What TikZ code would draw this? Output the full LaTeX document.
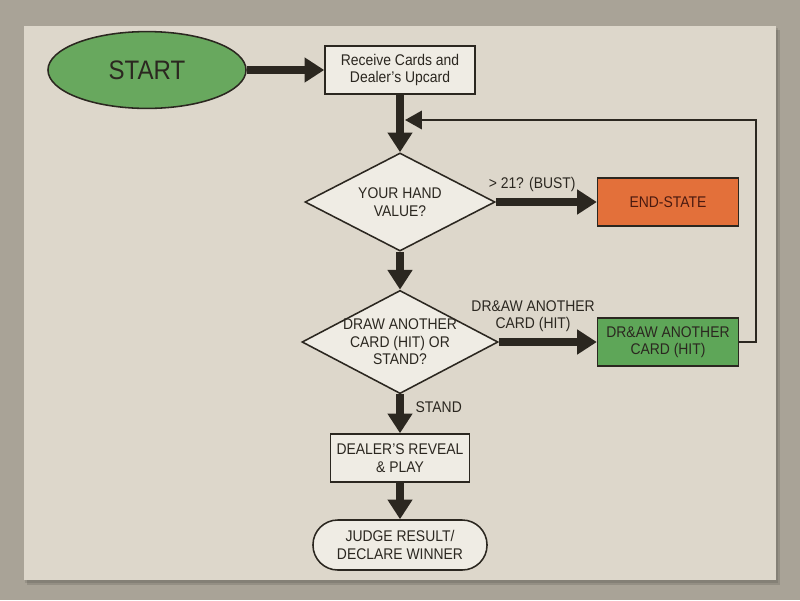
\documentclass[tikz,border=0pt]{standalone}
\usepackage{fontspec}
\setmainfont{Liberation Sans}[FakeStretch=0.9]
\usetikzlibrary{arrows.meta,positioning,shapes.geometric}
\definecolor{outerbg}{HTML}{A9A397}
\definecolor{paper}{HTML}{DDD7CB}
\definecolor{ink}{HTML}{2B2720}
\definecolor{boxfill}{HTML}{EFECE4}
\definecolor{startgreen}{HTML}{68A85E}
\definecolor{hitgreen}{HTML}{5EA658}
\definecolor{bustorange}{HTML}{E3703A}
\definecolor{busttext}{HTML}{4A1A10}

\begin{document}
\begin{tikzpicture}[
    x=0.025cm, y=-0.025cm,
    procbox/.style={
    rectangle,
    draw=ink,
    fill=boxfill,
    line width=1.1pt,
    minimum width=3.75cm,
    minimum height=1.2cm,
    align=center,
    text=ink,
    font=\fontsize{11}{12.5}\selectfont},
    decision/.style={
    diamond,
    aspect=1.9,
    draw=ink,
    fill=boxfill,
    line width=1.1pt,
    inner xsep=-12pt,
    inner ysep=-8pt,
    align=center,
    text=ink,
    font=\fontsize{11}{12.5}\selectfont},
    bigarrow/.style={-{Triangle[length=14pt,width=17pt]},line width=5.6pt,draw=ink},
    looparrow/.style={-{Triangle[length=12pt,width=13pt]},line width=1.8pt,draw=ink},
    edgelabel/.style={text=ink,align=center,font=\fontsize{11}{12.5}\selectfont}
    ]
    % background and panel
    \useasboundingbox (0,0) rectangle (800,600);
    \fill[outerbg] (0,0) rectangle (800,600);
    \fill[black,opacity=0.12] (27,30) rectangle (780,585);
    \fill[black,opacity=0.10] (25,28) rectangle (778,583);
    \fill[paper] (24,26) rectangle (776,580);

    % nodes
    \node[ellipse, draw=ink, fill=startgreen, line width=1.1pt,
          minimum width=4.95cm, minimum height=1.92cm,
          text=ink, font=\fontsize{19}{21}\selectfont] (start) at (147,70) {START};
    \node[procbox] (receive) at (400,70) {Receive Cards and\\Dealer’s Upcard};
    \node[decision, minimum width=4.75cm, minimum height=2.45cm] (hand) at (400,202) {YOUR HAND\\VALUE?};
    \node[procbox, fill=bustorange, text=busttext, minimum width=3.52cm] (bust) at (668,202) {END-STATE};
    \node[decision, minimum width=4.9cm, minimum height=2.58cm] (hitq) at (400,342) {DRAW ANOTHER\\CARD (HIT) OR\\STAND?};
    \node[procbox, fill=hitgreen, minimum width=3.52cm] (hit) at (668,342) {DR\&AW ANOTHER\\CARD (HIT)};
    \node[procbox, minimum width=3.47cm] (dealer) at (400,458) {DEALER’S REVEAL\\\& PLAY};
    \node[procbox, rounded corners=0.62cm, minimum width=4.35cm, minimum height=1.25cm] (judge) at (400,545) {JUDGE RESULT/\\DECLARE WINNER};

    \coordinate (loopcorner) at (756,120);
    \coordinate (merge) at (405,120);

    % connectors
    \draw[bigarrow] (start.east) -- (receive.west);
    \draw[bigarrow] (receive.south) -- (hand.north);
    \draw[bigarrow] (hand.east) -- (bust.west) node[edgelabel, above=1pt, pos=0.36] {> 21? (BUST)};
    \draw[bigarrow] (hand.south) -- (hitq.north);
    \draw[bigarrow] (hitq.east) -- (hit.west) node[edgelabel, above=1pt, pos=0.35] {DR\&AW ANOTHER\\CARD (HIT)};
    \draw[bigarrow] (hitq.south) -- (dealer.north) node[edgelabel, right=5pt, pos=0.33] {STAND};
    \draw[bigarrow] (dealer.south) -- (judge.north);
    \draw[looparrow] (hit.east) -| (loopcorner) -- (merge);
\end{tikzpicture}
\end{document}
